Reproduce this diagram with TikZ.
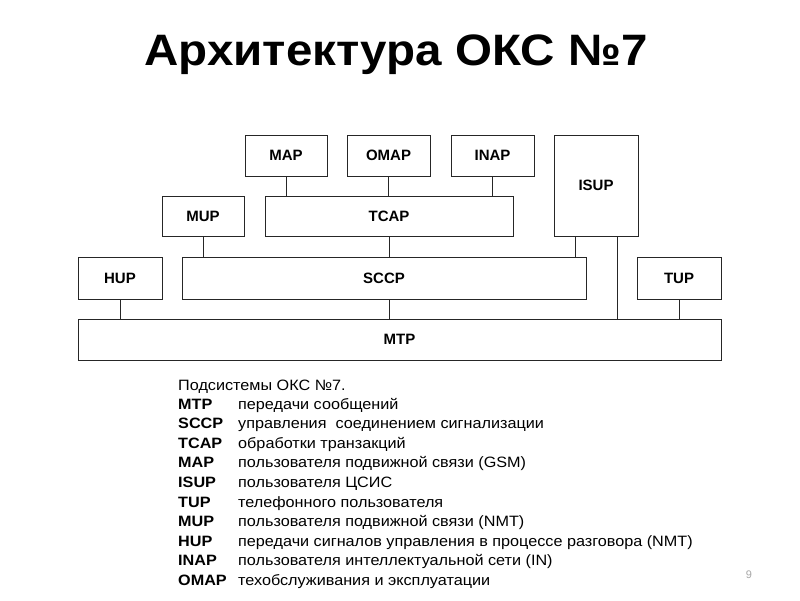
\documentclass[tikz,border=0pt]{standalone}
\usepackage{fontspec}
\setmainfont{Liberation Sans}
\newfontfamily\widesans[FakeStretch=1.08]{Liberation Sans}
\tikzset{
  blk/.style={draw=black!85, line width=1pt, inner sep=0pt, font=\fontsize{15}{15}\selectfont\bfseries},
  lnk/.style={draw=black!85, line width=1pt},
  keytxt/.style={anchor=base west, inner sep=0pt, font=\widesans\fontsize{15}{15}\selectfont\bfseries},
  desctxt/.style={anchor=base west, inner sep=0pt, font=\widesans\fontsize{15}{15}\selectfont},
}

\begin{document}
\begin{tikzpicture}[x=1pt, y=-1pt]
  \useasboundingbox (0,0) rectangle (800,600);
  % Title
  \node[anchor=base, inner sep=0pt, font=\widesans\fontsize{44}{44}\selectfont\bfseries] (title) at (396,65.5) {Архитектура ОКС №7};
  % Upper row
  \node[blk, minimum width=82pt, minimum height=41pt] (map) at (286,155.5) {MAP};
  \node[blk, minimum width=83pt, minimum height=41pt] (omap) at (388.5,155.5) {OMAP};
  \node[blk, minimum width=83pt, minimum height=41pt] (inap) at (492.5,155.5) {INAP};
  \node[blk, minimum width=84pt, minimum height=101pt] (isup) at (596,185.5) {ISUP};
  % Second row
  \node[blk, minimum width=82pt, minimum height=40pt] (mup) at (203,216) {MUP};
  \node[blk, minimum width=248pt, minimum height=40pt] (tcap) at (389,216) {TCAP};
  % Third row
  \node[blk, minimum width=84pt, minimum height=42pt] (hup) at (120,278) {HUP};
  \node[blk, minimum width=404pt, minimum height=42pt] (sccp) at (384,278) {SCCP};
  \node[blk, minimum width=84pt, minimum height=42pt] (tup) at (679,278) {TUP};
  % Bottom
  \node[blk, minimum width=643pt, minimum height=41pt] (mtp) at (399.5,339.5) {MTP};
  % Links
  \draw[lnk] (map.south) -- (map.south |- tcap.north);
  \draw[lnk] (omap.south) -- (omap.south |- tcap.north);
  \draw[lnk] (inap.south) -- (inap.south |- tcap.north);
  \draw[lnk] (mup.south) -- (mup.south |- sccp.north);
  \draw[lnk] (tcap.south) -- (tcap.south |- sccp.north);
  \coordinate (isupa) at ([xshift=-21pt]isup.south);
  \coordinate (isupb) at ([xshift=21pt]isup.south);
  \draw[lnk] (isupa) -- (isupa |- sccp.north);
  \draw[lnk] (isupb) -- (isupb |- mtp.north);
  \draw[lnk] (hup.south) -- (hup.south |- mtp.north);
  \draw[lnk] (tcap.south |- sccp.south) -- (tcap.south |- mtp.north);
  \draw[lnk] (tup.south) -- (tup.south |- mtp.north);
  % Legend
  \node[desctxt] (legtitle) at (178,390) {Подсистемы ОКС №7.};
  \node[keytxt] (kmtp) at (178,409) {MTP};
  \node[desctxt] (dmtp) at (238,409) {передачи сообщений};
  \node[keytxt] (ksccp) at (178,428.6) {SCCP};
  \node[desctxt] (dsccp) at (238,428.6) {управления\ \ соединением сигнализации};
  \node[keytxt] (ktcap) at (178,448.2) {TCAP};
  \node[desctxt] (dtcap) at (238,448.2) {обработки транзакций};
  \node[keytxt] (kmap) at (178,467.8) {MAP};
  \node[desctxt] (dmap) at (238,467.8) {пользователя подвижной связи (GSM)};
  \node[keytxt] (kisup) at (178,487.4) {ISUP};
  \node[desctxt] (disup) at (238,487.4) {пользователя ЦСИС};
  \node[keytxt] (ktup) at (178,507) {TUP};
  \node[desctxt] (dtup) at (238,507) {телефонного пользователя};
  \node[keytxt] (kmup) at (178,526.6) {MUP};
  \node[desctxt] (dmup) at (238,526.6) {пользователя подвижной связи (NMT)};
  \node[keytxt] (khup) at (178,546.2) {HUP};
  \node[desctxt] (dhup) at (238,546.2) {передачи сигналов управления в процессе разговора (NMT)};
  \node[keytxt] (kinap) at (178,565.8) {INAP};
  \node[desctxt] (dinap) at (238,565.8) {пользователя интеллектуальной сети (IN)};
  \node[keytxt] (komap) at (178,585.4) {OMAP};
  \node[desctxt] (domap) at (238,585.4) {техобслуживания и эксплуатации};
  % Page number
  \node[anchor=base, inner sep=0pt, font=\fontsize{11}{11}\selectfont, text=gray!70] (pnum) at (749,578) {9};
\end{tikzpicture}
\end{document}
